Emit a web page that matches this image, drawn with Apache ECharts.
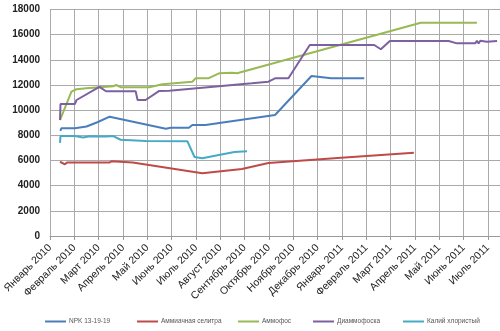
<!DOCTYPE html>
<html>
<head>
<meta charset="utf-8">
<script src="https://cdn.jsdelivr.net/npm/echarts@6/dist/echarts.min.js"></script>
<style>html,body{margin:0;padding:0;background:#fff;}#c{width:500px;height:331px;}</style>
</head>
<body>
<div id="c"></div>
<script>
const months = ['Январь 2010','Февраль 2010','Март 2010','Апрель 2010','Май 2010','Июнь 2010','Июль 2010','Август 2010','Сентябрь 2010','Октябрь 2010','Ноябрь 2010','Декабрь 2010','Январь 2011','Февраль 2011','Март 2011','Апрель 2011','Май 2011','Июнь 2011','Июль 2011'];
const seriesNames = ['NPK 13-19-19','Аммиачная селитра','Аммофос','Диаммофоска','Калий хлористый'];
// [month index (0 = Январь 2010), price]
const npk = [[0.42,8350],[0.47,8560],[1.02,8560],[1.5,8700],[1.97,9060],[2.45,9480],[4.76,8530],[4.96,8600],[5.71,8600],[5.85,8820],[6.39,8820],[9.25,9615],[10.75,12715],[11.56,12530],[12.92,12530]];
const selitra = [[0.41,5900],[0.61,5700],[0.71,5850],[2.45,5850],[2.54,5950],[2.62,5850],[3.4,5850],[6.26,4980],[7.89,5330],[8.98,5800],[11.97,6220],[14.96,6620]];
const ammofos = [[0.41,9218],[0.88,11470],[1.09,11660],[1.49,11737],[2.6,11900],[2.72,12000],[2.92,11817],[4.08,11817],[4.62,12055],[5.85,12262],[5.98,12530],[6.5,12530],[6.95,12930],[7.48,12980],[7.69,12930],[15.24,16950],[17.55,16950]];
const diammofoska = [[0.41,9218],[0.43,10490],[1.02,10490],[1.09,10808],[2.03,11850],[2.3,11500],[3.52,11500],[3.6,10808],[3.93,10808],[4.49,11530],[4.9,11550],[8.3,12135],[8.98,12262],[9.25,12530],[9.8,12530],[10.68,15180],[13.33,15180],[13.6,14840],[13.97,15500],[16.39,15500],[16.73,15310],[17.48,15310],[17.55,15520],[17.62,15310],[17.69,15520],[17.96,15440],[18.38,15500]];
const kaliy = [[0.41,7400],[0.43,7950],[1.02,7950],[1.36,7820],[1.63,7920],[2.31,7900],[2.58,7950],[2.9,7650],[3.94,7550],[5.65,7520],[5.94,6280],[6.26,6175],[6.94,6440],[7.58,6680],[8.1,6730]];
const colors = ['#4A7EBB','#BE4B48','#98B954','#7D60A0','#46AAC5'];
const dataSets = [npk, selitra, ammofos, diammofoska, kaliy];
const legendLefts = [45, 137, 238, 313, 403];

const chart = echarts.init(document.getElementById('c'), null, {renderer:'canvas'});
chart.setOption({
  animation: false,
  color: colors,
  grid: {left: 47, right: 0, top: 9.5, bottom: 95},
  legend: seriesNames.map((n, i) => ({
    top: 318, left: legendLefts[i], itemWidth: 21, itemHeight: 2, itemGap: 0,
    icon: 'rect', padding: 0,
    textStyle: {fontSize: 6.5, color: '#555', fontFamily: 'Liberation Sans', padding: [0,0,0,-2]},
    data: [n]
  })),
  xAxis: {
    type: 'value', min: 0, max: 18.5, interval: 1,
    axisLine: {show: true, lineStyle: {color: '#999'}},
    axisTick: {show: true, length: 4, lineStyle: {color: '#999'}},
    splitLine: {show: true, lineStyle: {color: '#aaa', width: 1}},
    axisLabel: {
      rotate: 45, fontSize: 10.5, color: '#222', margin: 10, fontFamily: 'Liberation Sans',
      showMaxLabel: false,
      formatter: v => (Number.isInteger(v) && months[v]) ? months[v] : ''
    }
  },
  yAxis: {
    type: 'value', min: 0, max: 18000, interval: 2000,
    axisLine: {show: false}, axisTick: {show: false},
    splitLine: {show: true, lineStyle: {color: '#aaa', width: 1}},
    axisLabel: {fontSize: 10, fontWeight: 'bold', color: '#222', margin: 10, fontFamily: 'Liberation Sans',
      formatter: v => String(v)}
  },
  series: seriesNames.map((n, i) => ({
    name: n, type: 'line', data: dataSets[i], showSymbol: false, symbol: 'none',
    lineStyle: {width: 2, color: colors[i]}, itemStyle: {color: colors[i]}
  }))
});
</script>
</body>
</html>
